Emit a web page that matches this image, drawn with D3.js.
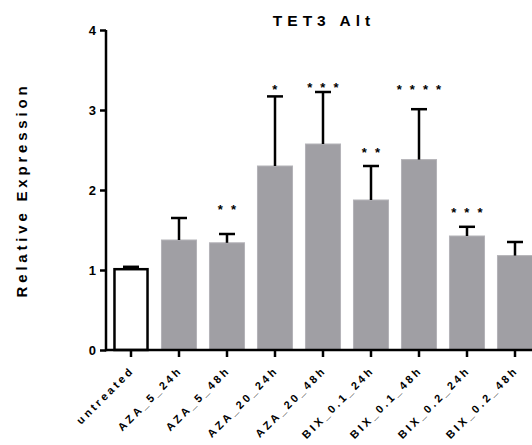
<!DOCTYPE html>
<html>
<head>
<meta charset="utf-8">
<script src="https://cdn.jsdelivr.net/npm/d3@7"></script>
<style>
  body { margin: 0; background: #fff; }
  svg { display: block; font-family: 'Liberation Sans', Arial, sans-serif; }
</style>
</head>
<body>
<div id="chart"><svg width="532" height="445"></svg></div>
<script>
const CATEGORIES = ['untreated', 'AZA_5_24h', 'AZA_5_48h', 'AZA_20_24h', 'AZA_20_48h',
  'BIX_0.1_24h', 'BIX_0.1_48h', 'BIX_0.2_24h', 'BIX_0.2_48h'];
const MEANS = [1.01, 1.375, 1.34, 2.3, 2.575, 1.875, 2.38, 1.425, 1.18];
const ERR_TOPS = [1.04, 1.65, 1.45, 3.17, 3.225, 2.3, 3.01, 1.54, 1.35];
const STARS = ['', '', '**', '*', '***', '**', '****', '***', ''];
const STAR_LEVELS = [0, 0, 1.8, 3.3, 3.33, 2.51, 3.3, 1.76, 0];
const Y_TICKS = [0, 1, 2, 3, 4];

const SVG = d3.select('#chart svg');

const X = d3.scaleBand()
  .domain(CATEGORIES)
  .range([107, 539])
  .paddingInner(0.27)
  .paddingOuter(0.135);

const Y = d3.scaleLinear().domain([0, 4]).range([350, 30]);

const data = CATEGORIES.map((c, i) => ({
  name: c, mean: MEANS[i], top: ERR_TOPS[i], stars: STARS[i], level: STAR_LEVELS[i], id: i,
}));

// bars
SVG.append('g')
  .selectAll('rect')
  .data(data)
  .join('rect')
  .attr('x', (d) => X(d.name) + (d.id === 0 ? 1 : 0))
  .attr('y', (d) => Y(d.mean))
  .attr('width', (d) => X.bandwidth() - (d.id === 0 ? 2 : 0))
  .attr('height', (d) => Y(0) - Y(d.mean))
  .style('fill', (d) => (d.id === 0 ? '#fff' : '#a09fa4'))
  .style('stroke', (d) => (d.id === 0 ? '#000' : '#b4b3b8'))
  .style('stroke-width', (d) => (d.id === 0 ? 2.5 : 1));

// error bars
const ERR_G = SVG.append('g').style('stroke', '#000').style('stroke-width', 2.5);
data.forEach((d) => {
  const cx = X(d.name) + X.bandwidth() / 2;
  ERR_G.append('line')
    .attr('x1', cx).attr('x2', cx)
    .attr('y1', Y(d.mean)).attr('y2', Y(d.top));
  ERR_G.append('line')
    .attr('x1', cx - 8).attr('x2', cx + 8)
    .attr('y1', Y(d.top)).attr('y2', Y(d.top));
});

// significance stars
SVG.append('g')
  .selectAll('text')
  .data(data.filter((d) => d.stars))
  .join('text')
  .text((d) => d.stars.split('').join(' '))
  .attr('x', (d) => X(d.name) + X.bandwidth() / 2 + 1)
  .attr('y', (d) => Y(d.level) + 8)
  .style('text-anchor', 'middle')
  .style('font-size', '13px')
  .style('font-weight', '700')
  .style('letter-spacing', '2.2px');

// axes
const Y_AXIS = SVG.append('g')
  .attr('transform', 'translate(106,0)')
  .call(d3.axisLeft(Y).tickValues(Y_TICKS).tickFormat(d3.format('d')).tickSize(6).tickPadding(4));

const X_AXIS = SVG.append('g')
  .attr('transform', `translate(0,${Y(0)})`)
  .call(d3.axisBottom(X).tickSize(7).tickSizeOuter(0).tickFormat(''));

[Y_AXIS, X_AXIS].forEach((g) => {
  g.selectAll('line').style('stroke', '#000').style('stroke-width', 2.5);
  g.select('.domain').remove();
});
SVG.append('line')
  .attr('x1', 106).attr('x2', 540)
  .attr('y1', Y(0)).attr('y2', Y(0))
  .style('stroke', '#000').style('stroke-width', 2.5);
SVG.append('line')
  .attr('x1', 106).attr('x2', 106)
  .attr('y1', Y(4)).attr('y2', Y(0) + 1.2)
  .style('stroke', '#000').style('stroke-width', 2.5);

Y_AXIS.selectAll('text')
  .style('font-family', "'Liberation Sans', Arial, sans-serif")
  .style('font-size', '13px')
  .style('font-weight', '700')
  .style('fill', '#000');

// rotated category labels
SVG.append('g')
  .selectAll('text')
  .data(data)
  .join('text')
  .text((d) => d.name)
  .attr('transform', (d) => `translate(${X(d.name) + X.bandwidth() / 2 + 4},${Y(0) + 21}) rotate(-45)`)
  .style('text-anchor', 'end')
  .style('font-size', '11px')
  .style('font-weight', '700')
  .style('letter-spacing', '2.9px');

// title
SVG.append('text')
  .text('TET3 Alt')
  .attr('x', 324)
  .attr('y', 26)
  .style('text-anchor', 'middle')
  .style('font-size', '15.5px')
  .style('font-weight', '700')
  .style('letter-spacing', '5px');

// y label
SVG.append('text')
  .text('Relative Expression')
  .attr('transform', 'translate(27,190) rotate(-90)')
  .style('text-anchor', 'middle')
  .style('font-size', '15px')
  .style('font-weight', '700')
  .style('letter-spacing', '3.8px');
</script>
</body>
</html>
